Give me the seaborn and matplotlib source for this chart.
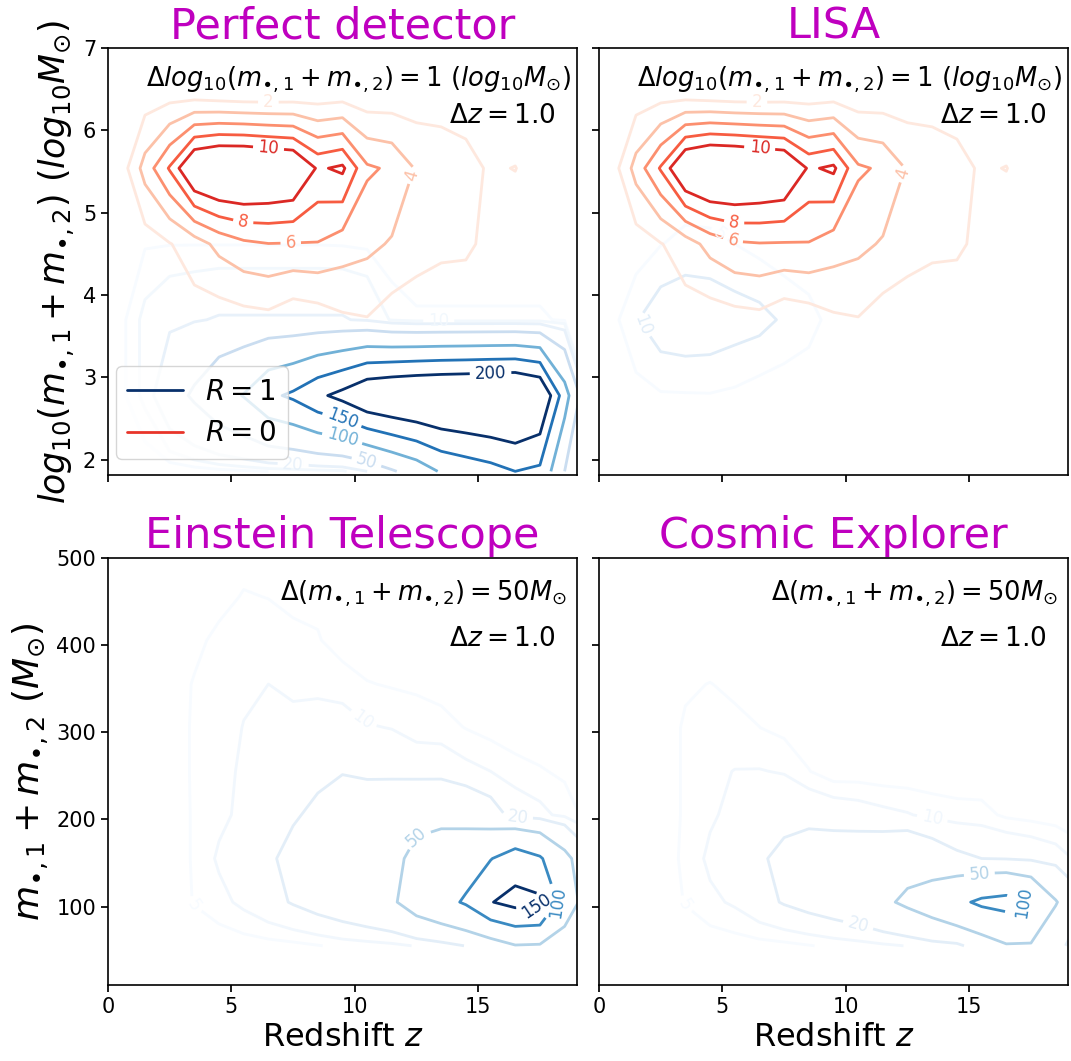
import numpy as np
import matplotlib
matplotlib.use("Agg")
import matplotlib.pyplot as plt
from matplotlib.lines import Line2D
import seaborn as sns

# ---- data (counts per bin) ----
z_bins = [0.5, 1.5, 2.5, 3.5, 4.5, 5.5, 6.5, 7.5, 8.5, 9.5,
          10.5, 11.5, 12.5, 13.5, 14.5, 15.5, 16.5, 17.5, 18.5, 19.5]
logm_rows = [1.86, 2.78, 3.70, 4.62, 5.54, 6.46]
mass_rows = [55, 105, 155, 205, 255, 305, 355, 405, 455, 505]

perfect_R1 = [
    [0, 0.5, 1, 2, 3, 4, 5, 6, 7, 8, 20, 45, 70, 105, 120, 133, 150, 140, 50, 1],
    [3, 12, 35, 55, 80, 102, 140, 158, 190, 215, 250, 262, 270, 275, 278, 282, 285, 262, 121, 5],
    [3, 12, 17, 19, 21, 21, 21, 21, 21, 21, 18, 9, 6, 6, 6, 6, 6, 6, 4, 1],
    [1, 4.5, 4.8, 4.8, 4.8, 4.8, 4.8, 4.8, 4.8, 4.6, 4, 1, 0.5, 0.5, 0.5, 0.5, 0.5, 0.5, 0.3, 0],
    [0.2, 0.5, 1, 1, 1, 1, 1, 1, 1, 1, 0.5, 0.2, 0.1, 0, 0, 0, 0, 0, 0, 0],
    [0, 0, 0, 0, 0, 0, 0, 0, 0, 0, 0, 0, 0, 0, 0, 0, 0, 0, 0, 0],
]
perfect_R0 = [
    [0, 0, 0, 0, 0, 0, 0, 0, 0, 0, 0, 0, 0, 0, 0, 0, 0, 0, 0, 0],
    [0, 0, 0.1, 0.2, 0.3, 0.3, 0.3, 0.3, 0.3, 0.3, 0.4, 0.3, 0.2, 0.1, 0.1, 0.1, 0, 0, 0, 0],
    [0, 0.2, 0.5, 1.15, 0.9, 1.2, 1.4, 0.5, 0.9, 1.67, 1.9, 1.03, 0.67, 0.2, 0.5, 0.3, 0.2, 0.1, 0, 0],
    [0.2, 1.0, 1.9, 3.0, 4.6, 5.6, 5.95, 5.9, 5.9, 5.0, 4.5, 3.8, 3.0, 2.6, 2.4, 1.4, 0.8, 0.4, 0.2, 0.1],
    [0.8, 4.8, 8.2, 13, 14, 14, 13.5, 13, 9.7, 10.4, 6.3, 5.7, 3.8, 3.2, 2.5, 1.8, 2.05, 1.0, 0.5, 0.3],
    [0.3, 0.8, 1.0, 0.8, 0.5, 0.3, 0.3, 0.4, 0.6, 0.8, 0.5, 0.6, 0.8, 1.0, 1.2, 0.8, 0.4, 0.2, 0.1, 0],
]
lisa_R0 = [
    [0, 0, 0, 0, 0, 0, 0, 0, 0, 0, 0, 0, 0, 0, 0, 0, 0, 0, 0, 0],
    [0, 0, 0.1, 0.2, 0.3, 0.3, 0.3, 0.3, 0.3, 0.3, 0.4, 0.3, 0.2, 0.1, 0.1, 0.1, 0, 0, 0, 0],
    [0, 0.2, 0.5, 1.15, 0.9, 1.2, 1.4, 0.5, 0.9, 1.67, 1.9, 1.03, 0.67, 0.2, 0.5, 0.3, 0.2, 0.1, 0, 0],
    [0.2, 1.0, 1.9, 3.0, 4.7, 5.7, 5.9, 5.85, 5.9, 5.0, 4.5, 3.8, 3.0, 2.6, 2.4, 1.4, 0.8, 0.4, 0.2, 0.1],
    [0.8, 4.8, 8.2, 13, 14.2, 14, 13.5, 13, 9.7, 10.4, 6.3, 5.7, 3.8, 3.2, 2.5, 1.8, 2.05, 1.0, 0.5, 0.3],
    [0.3, 0.8, 1.0, 0.8, 0.5, 0.3, 0.3, 0.4, 0.6, 0.8, 0.5, 0.6, 0.8, 1.0, 1.2, 0.8, 0.4, 0.2, 0.1, 0],
]
lisa_R1 = [
    [0, 0.2, 0.5, 0.5, 0.5, 0.4, 0.3, 0.2, 0.1, 0, 0, 0, 0, 0, 0, 0, 0, 0, 0, 0],
    [1, 3, 4.5, 4.6, 4.7, 4, 2.5, 2, 1.5, 1, 0.5, 0.2, 0, 0, 0, 0, 0, 0, 0, 0],
    [3, 9.5, 14, 15, 14.5, 13, 12, 9.1, 7, 3, 1, 0.5, 0, 0, 0, 0, 0, 0, 0, 0],
    [0.5, 2, 4.8, 6.5, 6.2, 5, 3.3, 2, 1, 0.5, 0.2, 0, 0, 0, 0, 0, 0, 0, 0, 0],
    [0, 0.3, 0.5, 0.5, 0.5, 0.4, 0.3, 0.2, 0.1, 0, 0, 0, 0, 0, 0, 0, 0, 0, 0, 0],
    [0, 0, 0, 0, 0, 0, 0, 0, 0, 0, 0, 0, 0, 0, 0, 0, 0, 0, 0, 0],
]
et_R1 = [
    [0, 0.5, 1, 1.5, 2, 2.5, 3, 3.5, 4.7, 6.2, 7, 8, 10.5, 14, 20.5, 30, 48, 46, 30, 10],
    [0.5, 1, 2, 5.3, 8, 11.6, 16, 21, 26, 31, 37, 45, 68, 85, 105, 148, 165, 160, 75, 30],
    [1, 1.5, 2.5, 5.5, 11, 15, 18.5, 23, 27, 31, 38, 47, 53, 65, 80, 98, 125, 105, 60, 25],
    [0.5, 1.5, 2.5, 5.5, 8.5, 11.5, 16, 19, 22, 26, 33, 40, 47, 43, 36, 27, 15, 12, 8, 3],
    [0.5, 1.5, 3, 5.5, 8, 11, 14, 16, 18, 19.5, 17, 15.6, 14, 15, 12, 10, 7, 5.5, 4, 1.5],
    [0.3, 1, 3, 5.5, 7.5, 10.2, 13, 13, 13, 12.5, 10.5, 9.8, 8, 7, 4.8, 3, 2, 1.5, 1, 0.5],
    [0.5, 1.5, 3, 5.3, 7.5, 9, 10, 8, 8.5, 8, 5.3, 4.5, 4, 3, 2.5, 2, 1.5, 1, 0.5, 0.3],
    [0.3, 1, 2.5, 4, 6, 7, 7, 6.5, 5.5, 2.2, 1.5, 1.2, 1, 0.8, 0.6, 0.5, 0.3, 0.2, 0.1, 0],
    [0.2, 0.8, 1.8, 2.8, 3.7, 5.3, 4.9, 3.6, 3.5, 1.5, 1, 0.8, 0.6, 0.5, 0.4, 0.3, 0.2, 0.1, 0.1, 0],
    [0, 0.3, 0.8, 1.5, 2.5, 3.5, 3.2, 2, 1.5, 0.5, 0.3, 0.2, 0.1, 0, 0, 0, 0, 0, 0, 0],
]
ce_R1 = [
    [0, 0.5, 1, 1.5, 2, 2.5, 3, 3.5, 4.7, 6, 7, 8.5, 10.3, 14, 16, 30, 47, 47, 28, 8],
    [0.5, 1, 2, 5.3, 8.5, 11, 16, 21, 25, 29, 34, 44, 56, 70, 90, 108, 115, 95, 52, 25],
    [1, 2, 3, 5.8, 11.5, 15, 18.5, 23, 26, 28, 30, 33, 37, 30, 23, 20, 19, 17, 14, 8],
    [0.5, 1.5, 3, 5.5, 9, 12, 13, 16.75, 17.2, 15.5, 14, 12, 10.5, 8.3, 7.1, 6.8, 4, 3, 2, 1],
    [0.5, 1.5, 3, 5.5, 8.5, 10.2, 10.3, 9.5, 5.2, 1.75, 2, 1.5, 1.5, 1.5, 1.5, 1.5, 1.5, 1, 0.5, 0.3],
    [0.3, 1, 3, 5.5, 6.5, 6, 5.05, 3.5, 2, 1, 0.8, 0.6, 0.5, 0.4, 0.3, 0.3, 0.2, 0.2, 0.1, 0],
    [0.2, 0.8, 2.5, 4.5, 5.1, 4.2, 3, 2, 1.2, 0.6, 0.4, 0.3, 0.2, 0.2, 0.1, 0.1, 0.1, 0, 0, 0],
    [0.1, 0.5, 1.5, 2.5, 2.5, 2, 1.5, 1, 0.5, 0.3, 0.2, 0.1, 0.1, 0, 0, 0, 0, 0, 0, 0],
    [0, 0.3, 0.8, 1.2, 1.2, 1, 0.8, 0.5, 0.3, 0.1, 0, 0, 0, 0, 0, 0, 0, 0, 0, 0],
    [0, 0.1, 0.3, 0.5, 0.5, 0.4, 0.3, 0.2, 0.1, 0, 0, 0, 0, 0, 0, 0, 0, 0, 0, 0],
]

levels_R0 = [2, 4, 6, 8, 10]
levels_R1 = [5, 10, 20, 50, 100, 150, 200]

titles = ["Perfect detector", "LISA", "Einstein Telescope", "Cosmic Explorer"]

# ---- style ----
sns.set_theme(style="ticks")
plt.rcParams.update({
    "font.family": "DejaVu Sans",
    "mathtext.fontset": "dejavusans",
    "text.color": "black",
    "axes.labelcolor": "black",
    "axes.edgecolor": "black",
    "axes.linewidth": 1.2,
    "xtick.color": "black",
    "ytick.color": "black",
    "xtick.labelsize": 15,
    "ytick.labelsize": 15,
    "xtick.major.size": 5,
    "ytick.major.size": 5,
})

reds = sns.color_palette("Reds", as_cmap=True)
blues = sns.color_palette("Blues", as_cmap=True)

fig, axes = plt.subplots(2, 2, figsize=(10.71, 10.61), dpi=100,
                         sharex=True, sharey="row")
fig.subplots_adjust(left=0.1008, right=0.9972, top=0.9548, bottom=0.0716,
                    wspace=0.047, hspace=0.192)

Z = np.array(z_bins)
LM = np.array(logm_rows)
M = np.array(mass_rows)


def draw(ax, y, grid, levels, cmap, vmin, vmax, label_pos):
    cs = ax.contour(Z, y, np.array(grid), levels=levels, cmap=cmap,
                    vmin=vmin, vmax=vmax, linewidths=2)
    ax.clabel(cs, fmt="%d", fontsize=12, inline=True, manual=label_pos)
    return cs


# top-left: perfect detector
ax = axes[0, 0]
draw(ax, LM, perfect_R1, levels_R1, blues, 5, 200,
     [(13.4, 3.69), (15.5, 3.05), (9.5, 2.5), (9.5, 2.27), (10.5, 2.0), (7.5, 1.94)])
draw(ax, LM, perfect_R0, levels_R0, reds, 1, 14,
     [(6.5, 6.37), (12.5, 5.44), (7.4, 4.68), (5.5, 4.91), (6.5, 5.77)])

# top-right: LISA
ax = axes[0, 1]
draw(ax, LM, lisa_R1, [5, 10], blues, 5, 50, [(1.5, 3.6), (4.5, 4.6)])
draw(ax, LM, lisa_R0, levels_R0, reds, 1, 14,
     [(6.4, 6.37), (12.5, 5.46), (5.5, 4.72), (5.5, 4.91), (6.5, 5.76)])

# bottom row: ground based detectors
draw(axes[1, 0], M, et_R1, levels_R1[:-1], blues, 5, 150,
     [(3.5, 102), (10.4, 316), (16.6, 206), (12.4, 181), (18.4, 105), (17.4, 93)])
draw(axes[1, 1], M, ce_R1, levels_R1[:-1], blues, 5, 150,
     [(3.45, 102), (13.5, 201), (10.5, 79), (15.4, 139), (17.3, 99)])

for ax, t in zip(axes.flat, titles):
    ax.set_title(t, color="#bf00bf", fontsize=31, pad=7)
    ax.set_xlim(0, 19)
    ax.set_xticks([0, 5, 10, 15])

axes[0, 0].set_ylim(1.81, 7)
axes[0, 0].set_yticks([2, 3, 4, 5, 6, 7])
axes[1, 0].set_ylim(10, 500)
axes[1, 0].set_yticks([100, 200, 300, 400, 500])

for ax in axes[0]:
    ax.text(0.987, 0.926, r"$\Delta log_{10}(m_{\bullet,1}+m_{\bullet,2}) = 1\ (log_{10}M_{\odot})$",
            transform=ax.transAxes, ha="right", va="center", fontsize=18.5)
    ax.text(0.955, 0.84, r"$\Delta z = 1.0$", transform=ax.transAxes,
            ha="right", va="center", fontsize=19)
for ax in axes[1]:
    ax.text(0.979, 0.915, r"$\Delta(m_{\bullet,1}+m_{\bullet,2}) = 50M_{\odot}$",
            transform=ax.transAxes, ha="right", va="center", fontsize=18.5)
    ax.text(0.955, 0.81, r"$\Delta z = 1.0$", transform=ax.transAxes,
            ha="right", va="center", fontsize=19)
    ax.set_xlabel(r"Redshift $z$", fontsize=23)

axes[0, 0].set_ylabel(r"$log_{10}(m_{\bullet,1}+m_{\bullet,2})\ (log_{10}M_{\odot})$", fontsize=25)
axes[1, 0].set_ylabel(r"$m_{\bullet,1}+m_{\bullet,2}\ (M_{\odot})$", fontsize=26)

handles = [Line2D([0], [0], color=blues(1.0), lw=2),
           Line2D([0], [0], color=reds(0.65), lw=2)]
axes[0, 0].legend(handles, [r"$R=1$", r"$R=0$"], loc="lower left",
                  bbox_to_anchor=(0.0, 0.02), borderaxespad=0.3, fontsize=20)

fig.savefig("out.png", dpi=100)
